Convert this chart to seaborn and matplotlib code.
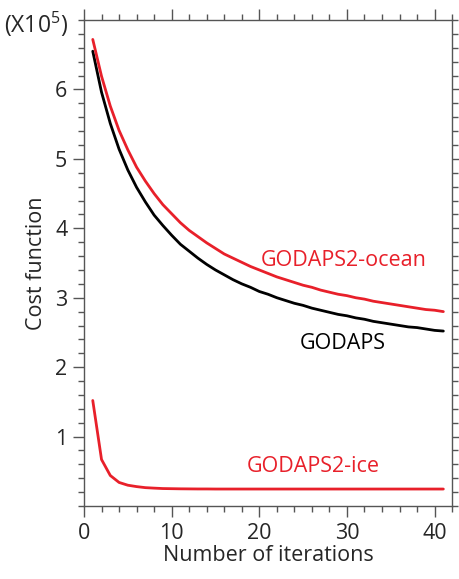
import numpy as np
import pandas as pd
import matplotlib
matplotlib.use("Agg")
import matplotlib.pyplot as plt
import seaborn as sns
from matplotlib.ticker import MultipleLocator

# iterations 1..41
iterations = list(range(1, 42))
godaps = [6.55, 5.96, 5.51, 5.14, 4.84, 4.59, 4.38, 4.19, 4.04, 3.90,
          3.77, 3.67, 3.57, 3.48, 3.40, 3.33, 3.26, 3.20, 3.15, 3.09,
          3.05, 3.00, 2.96, 2.92, 2.89, 2.85, 2.82, 2.79, 2.76, 2.74,
          2.71, 2.69, 2.66, 2.64, 2.62, 2.60, 2.58, 2.57, 2.55, 2.53, 2.52]
godaps2_ocean = [6.72, 6.19, 5.76, 5.41, 5.13, 4.88, 4.68, 4.50, 4.34, 4.21,
                 4.08, 3.97, 3.88, 3.79, 3.71, 3.63, 3.57, 3.51, 3.45, 3.40,
                 3.35, 3.30, 3.26, 3.22, 3.18, 3.15, 3.11, 3.08, 3.05, 3.03,
                 3.00, 2.98, 2.95, 2.93, 2.91, 2.89, 2.87, 2.85, 2.83, 2.82, 2.80]
godaps2_ice = [1.52, 0.67, 0.44, 0.34, 0.30, 0.28, 0.265, 0.258, 0.252, 0.25,
               0.248, 0.247, 0.246, 0.246, 0.245, 0.245, 0.245, 0.245, 0.245, 0.245,
               0.245, 0.245, 0.245, 0.245, 0.245, 0.245, 0.245, 0.245, 0.245, 0.245,
               0.245, 0.245, 0.245, 0.245, 0.245, 0.245, 0.245, 0.245, 0.245, 0.245, 0.245]

df = pd.DataFrame({"iter": iterations, "GODAPS": godaps,
                   "GODAPS2-ocean": godaps2_ocean, "GODAPS2-ice": godaps2_ice})

sns.set_style("ticks")
plt.rcParams["font.family"] = ["Open Sans", "DejaVu Sans"]
plt.rcParams["mathtext.fontset"] = "custom"
plt.rcParams["mathtext.rm"] = "Open Sans"

red = "#e8202a"
fig = plt.figure(figsize=(4.59, 5.79), dpi=100)
ax = fig.add_axes([0.183, 0.126, 0.802, 0.8395])

sns.lineplot(data=df, x="iter", y="GODAPS", color="black", lw=2.0, ax=ax)
sns.lineplot(data=df, x="iter", y="GODAPS2-ocean", color=red, lw=2.0, ax=ax)
sns.lineplot(data=df, x="iter", y="GODAPS2-ice", color=red, lw=2.0, ax=ax)

ax.set_xlim(0, 42)
ax.set_ylim(0, 7)
ax.xaxis.set_major_locator(MultipleLocator(10))
ax.xaxis.set_minor_locator(MultipleLocator(2))
ax.yaxis.set_major_locator(MultipleLocator(1))
ax.yaxis.set_minor_locator(MultipleLocator(0.2))
ax.set_yticks([1, 2, 3, 4, 5, 6])

for s in ax.spines.values():
    s.set_visible(True)
    s.set_color("#555555")
    s.set_linewidth(1.0)
ax.tick_params(which="both", direction="out", top=True, right=True,
               labeltop=False, labelright=False, color="#555555", width=1.0)
ax.tick_params(which="major", length=8, labelsize=15.5, pad=4)
ax.tick_params(which="minor", length=4)

ax.set_xlabel("Number of iterations", fontsize=15.5, labelpad=1)
ax.set_ylabel("Cost function", fontsize=15.5, labelpad=6)

ax.text(20.2, 3.53, "GODAPS2-ocean", color=red, fontsize=15.5, va="center")
ax.text(24.6, 2.34, "GODAPS", color="black", fontsize=15.5, va="center")
ax.text(18.6, 0.57, "GODAPS2-ice", color=red, fontsize=15.5, va="center")
fig.text(0.008, 0.958, "(X10$^5$)", fontsize=16.5, va="center", ha="left")

fig.savefig("out.png", dpi=100)
